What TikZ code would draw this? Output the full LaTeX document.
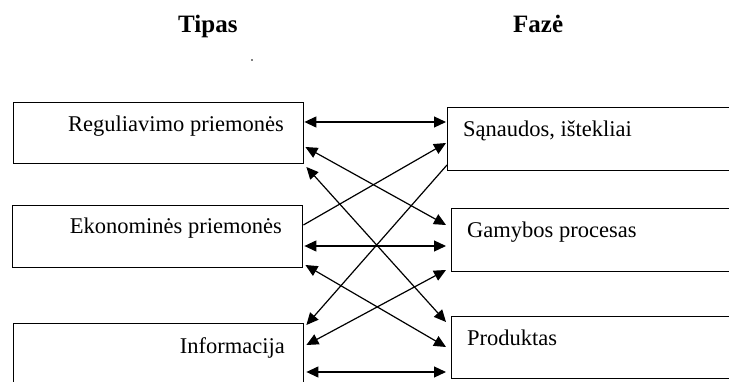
\documentclass[tikz,border=0pt]{standalone}
\usepackage{fontspec}
\setmainfont{Liberation Serif}
\usetikzlibrary{arrows.meta,calc}
\begin{document}
\begin{tikzpicture}[x=1pt,y=-1pt,
  box/.style={draw,line width=1.4pt,rectangle,inner sep=0pt,anchor=north west},
  lbl/.style={font=\fontsize{22.5}{26}\selectfont,inner sep=0pt},
  ttl/.style={font=\bfseries\fontsize{25}{30}\selectfont,inner sep=0pt,anchor=base west},
  con/.style={line width=1.2pt},
  tip/.style={-{Triangle[length=12pt,width=11pt]}},
  dbl/.style={{Triangle[length=12pt,width=11pt]}-{Triangle[length=12pt,width=11pt]}}]
\useasboundingbox (0,0) rectangle (729,382);
% titles
\node[ttl] (tipas) at (178,33) {Tipas};
\node[ttl] (faze) at (513,33) {Fazė};
\fill (252,60) circle (0.9pt);
% boxes
\node[box,minimum width=290pt,minimum height=61pt] (reg) at (13,102) {};
\node[box,minimum width=290pt,minimum height=62pt] (eko) at (12,205) {};
\node[box,minimum width=290pt,minimum height=62pt] (inf) at (13,323) {};
\node[box,minimum width=400pt,minimum height=63pt] (san) at (447,107) {};
\node[box,minimum width=400pt,minimum height=63pt] (gam) at (451,208) {};
\node[box,minimum width=400pt,minimum height=62pt] (pro) at (451,316) {};
% labels
\node[lbl,anchor=base east] (treg) at (284,132) {Reguliavimo priemonės};
\node[lbl,anchor=base east] (teko) at (282,234) {Ekonominės priemonės};
\node[lbl,anchor=base east] (tinf) at (285,354) {Informacija};
\node[lbl,anchor=base west] (tsan) at (463,137) {Sąnaudos, ištekliai};
\node[lbl,anchor=base west] (tgam) at (467,238) {Gamybos procesas};
\node[lbl,anchor=base west] (tpro) at (467,345) {Produktas};
% connectors
\draw[con,dbl] ($(reg.north east)+(0,20)$) -- ($(san.north west)+(-1,15)$);
\draw[con,dbl] ($(reg.north east)+(1,45)$) -- ($(gam.north west)+(-5,17)$);
\draw[con,dbl] ($(reg.north east)+(2,65)$) -- ($(pro.north west)+(-5,6)$);
\draw[con,tip] ($(eko.north east)+(0,20)$) -- ($(san.north west)+(-1,36)$);
\draw[con,tip] ($(san.north west)+(0,58)$) -- ($(inf.north east)+(2,2)$);
\draw[con,dbl] ($(eko.north east)+(1,41)$) -- ($(gam.north west)+(-5,38)$);
\draw[con,dbl] ($(eko.north east)+(2,60)$) -- ($(pro.north west)+(-5,31)$);
\draw[con,dbl] ($(inf.north east)+(2,22)$) -- ($(gam.north west)+(-5,62)$);
\draw[con,dbl] ($(inf.north east)+(2,49)$) -- ($(pro.north west)+(-5,56)$);
\end{tikzpicture}
\end{document}
